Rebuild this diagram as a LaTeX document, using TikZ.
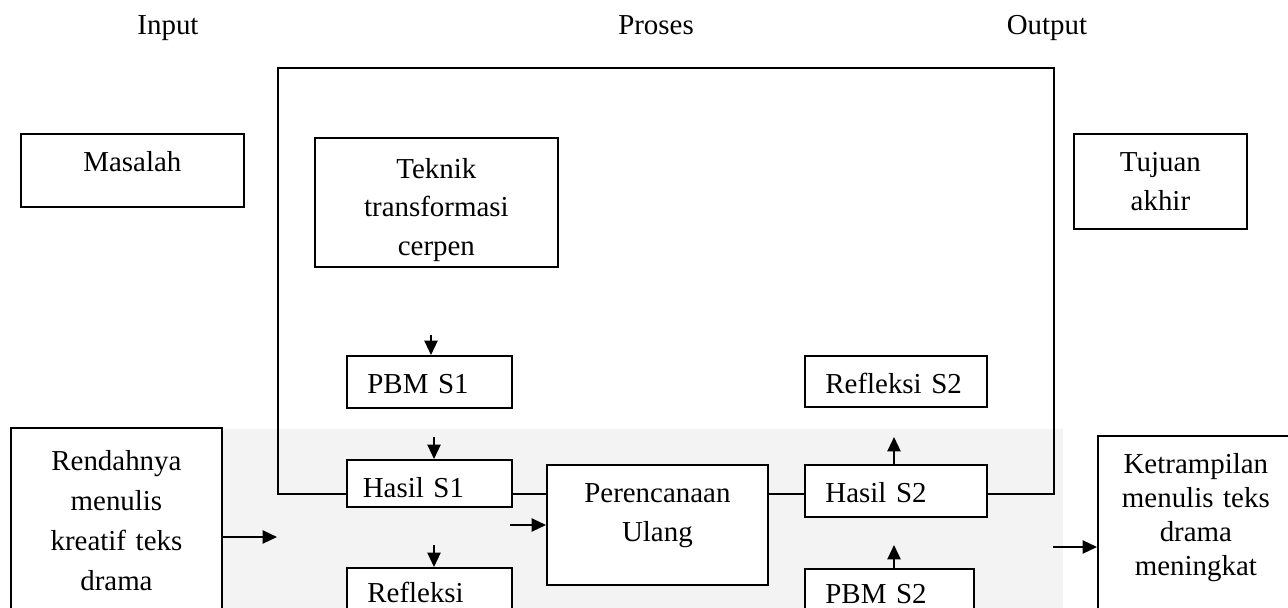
\documentclass[tikz,border=0pt]{standalone}
\usepackage{fontspec}
\setmainfont{Liberation Serif}
\usepackage{tikz}
\usetikzlibrary{arrows.meta,positioning}
\usepackage{xcolor}
\definecolor{latarabu}{RGB}{243,243,243}
\tikzstyle{panah} = [line width=0.75pt,-{Triangle[length=6pt,width=5.5pt]}]
\tikzstyle{kotak} = [rectangle, draw, line width=0.75pt, fill=white, anchor=north west, inner xsep=0pt, inner ysep=0pt, align=center, text height=15.8pt]
\tikzstyle{kotakkecil} = [kotak, align=left, inner xsep=8.5pt]
\tikzstyle{judul} = [anchor=base]

\begin{document}
\begin{tikzpicture}[x=0.415pt, y=-0.415pt, font=\fontsize{12pt}{16pt}\selectfont]
\useasboundingbox (0,0) rectangle (1288,608);

% Latar abu-abu di bagian bawah
\fill[latarabu] (221,429) rectangle (1063,608);

% Judul kolom
\node[judul] (input) at (168,35) {Input};
\node[judul] (proses) at (656,35) {Proses};
\node[judul] (output) at (1047,35) {Output};

% Bingkai proses
\node[draw, line width=0.75pt, anchor=north west, minimum width=322pt, minimum height=176.8pt, inner sep=0pt] (bingkai) at (277,67) {};

% Kotak input dan output
\node[kotak, text width=92.5pt, text depth=14.5pt] (masalah) at (20,133) {Masalah};
\node[kotak, text width=71.8pt, text depth=23.6pt] (tujuan) at (1073,133) {Tujuan\\akhir};
\node[kotak, text width=87.6pt, text height=17.8pt, text depth=68pt, font=\fontsize{12pt}{16.5pt}\selectfont] (rendah) at (10,427) {Rendahnya\\menulis\\kreatif teks\\drama};
\node[kotak, text width=81.3pt, text depth=65pt, font=\fontsize{12pt}{14pt}\selectfont] (trampil) at (1097,435) {Ketrampilan\\menulis teks\\drama\\meningkat};

% Kotak proses
\node[kotak, text width=100.8pt, text height=16.8pt, text depth=36.7pt] (teknik) at (314,137) {Teknik\\transformasi\\cerpen};
\node[kotakkecil, text width=51.5pt, text depth=5.8pt] (pbmsatu) at (346,355) {PBM S1};
\node[kotakkecil, text width=55.3pt, inner xsep=6.6pt, text depth=3.7pt] (hasilsatu) at (346,459) {Hasil S1};
\node[kotakkecil, text width=51.5pt, text height=14.5pt, text depth=16pt] (refleksisatu) at (346,567) {Refleksi};
\node[kotak, text width=91.7pt, text depth=34pt] (rencana) at (546,464) {Perencanaan\\Ulang};
\node[kotakkecil, text width=58.5pt, text depth=5.4pt] (refleksidua) at (804,355) {Refleksi S2};
\node[kotakkecil, text width=58.5pt, text depth=5.8pt] (hasildua) at (804,464) {Hasil S2};
\node[kotakkecil, text width=53.1pt, text height=14.5pt, text depth=16pt] (pbmdua) at (804,568) {PBM S2};

% Panah
\coordinate (a1) at (431,335);
\coordinate (a2) at (434,437);
\coordinate (a3) at (434,545);
\coordinate (a4) at (277,537);
\coordinate (a5) at (510,525);
\coordinate (a6) at (894,437);
\coordinate (a7) at (894,545);
\coordinate (a8) at (1053,547);
\draw[panah] (a1) -- (a1 |- pbmsatu.north);
\draw[panah] (a2) -- (a2 |- hasilsatu.north);
\draw[panah] (a3) -- (a3 |- refleksisatu.north);
\draw[panah] (a4 -| rendah.east) -- (a4);
\draw[panah] (a5) -- (a5 -| rencana.west);
\draw[panah] (a6 |- hasildua.north) -- (a6);
\draw[panah] (a7 |- pbmdua.north) -- (a7);
\draw[panah] (a8) -- (a8 -| trampil.west);
\end{tikzpicture}
\end{document}
